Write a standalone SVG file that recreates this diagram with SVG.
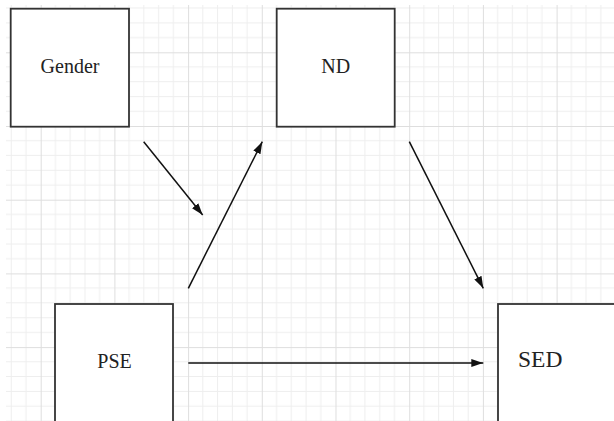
<svg xmlns="http://www.w3.org/2000/svg" width="614" height="421" viewBox="0 0 614 421">
<style>
.box{fill:#fff;stroke:#333;stroke-width:1.8}
.lbl{font-family:'Liberation Serif','Times New Roman',Times,serif;fill:#222;font-size:20px}
.edge{stroke:#111;stroke-width:1.5;fill:none;marker-end:url(#ah)}
.minor{stroke:#eeeeee;stroke-width:1}
.major{stroke:#dedede;stroke-width:1}
</style>
<defs>
<pattern id="grid" patternUnits="userSpaceOnUse" x="-33" y="-21.4" width="73.7" height="73.7">
<path class="minor" d="M14.74 0V73.7M29.48 0V73.7M44.22 0V73.7M58.96 0V73.7M0 14.74H73.7M0 29.48H73.7M0 44.22H73.7M0 58.96H73.7"/>
<path class="major" d="M0.5 0V73.7M0 0.5H73.7"/>
</pattern>
<marker id="ah" viewBox="0 0 12 8" refX="12" refY="4" markerWidth="12" markerHeight="8" markerUnits="userSpaceOnUse" orient="auto">
<path d="M0 0L12 4L0 8Z" fill="#111"/>
</marker>
</defs>
<rect width="614" height="421" fill="#fff"/>
<rect x="6" y="5" width="608" height="416" fill="url(#grid)"/>
<g id="connectors">
<line class="edge" x1="143.7" y1="141.7" x2="202.7" y2="215"/>
<line class="edge" x1="188.3" y1="288.3" x2="262.3" y2="141.7"/>
<line class="edge" x1="409.3" y1="141.7" x2="483.3" y2="288.3"/>
<line class="edge" x1="188.3" y1="363" x2="483.3" y2="363"/>
</g>
<g id="gender">
<rect class="box" x="10.7" y="8.7" width="118.3" height="118"/>
<text class="lbl" x="70" y="72.7" text-anchor="middle" font-family="Liberation Serif, serif">Gender</text>
</g>
<g id="nd">
<rect class="box" x="276.7" y="8.7" width="118" height="118"/>
<text class="lbl" x="335.8" y="72.7" text-anchor="middle" font-family="Liberation Serif, serif">ND</text>
</g>
<g id="pse">
<rect class="box" x="55" y="304" width="118" height="160"/>
<text class="lbl" x="114.5" y="367.7" text-anchor="middle" font-family="Liberation Serif, serif">PSE</text>
</g>
<g id="sed">
<rect class="box" x="498" y="304" width="200" height="160"/>
<text class="lbl" x="518" y="366.7" style="font-size:23.5px" font-family="Liberation Serif, serif">SED</text>
</g>
</svg>
